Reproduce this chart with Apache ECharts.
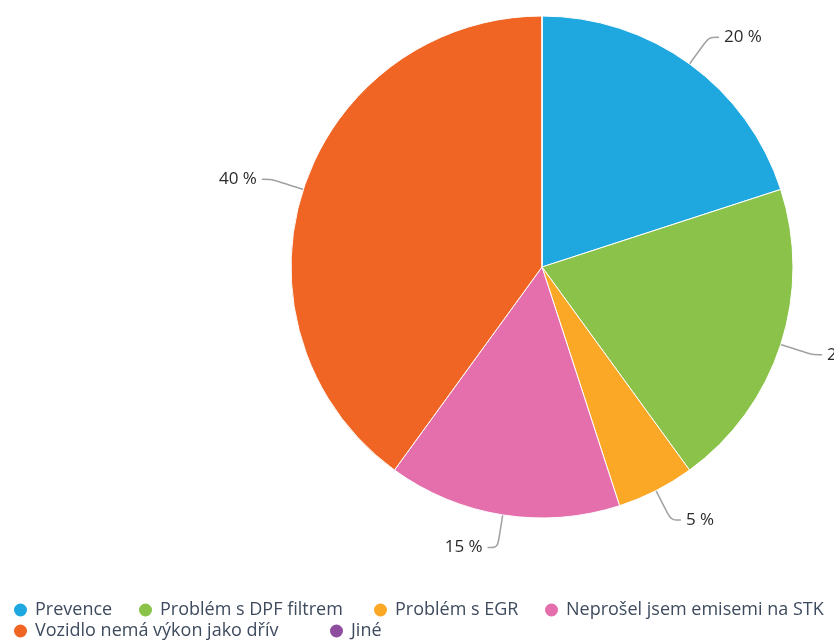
<!DOCTYPE html>
<html>
<head>
<meta charset="utf-8">
<script src="https://cdn.jsdelivr.net/npm/echarts@6/dist/echarts.min.js"></script>
<style>
  html, body { margin: 0; padding: 0; background: #fff; }
  #chart { width: 834px; height: 641px; }
</style>
</head>
<body>
<div id="chart"></div>
<script>
const categories = [
  'Prevence',
  'Problém s DPF filtrem',
  'Problém s EGR',
  'Neprošel jsem emisemi na STK',
  'Vozidlo nemá výkon jako dřív',
  'Jiné'
];
const values = [20, 20, 5, 15, 40, 0];
const colors = ['#1fa8e0', '#8bc34a', '#fba827', '#e56fac', '#f06524', '#8e4d9e'];

// legend item placement (left x, row top y)
const legendSpots = [[12, 601], [137, 601], [372, 601], [543, 601], [12, 622], [328, 622]];

const chart = echarts.init(document.getElementById('chart'));

const legends = categories.map((name, i) => ({
  data: [name],
  left: legendSpots[i][0],
  top: legendSpots[i][1],
  icon: 'circle',
  itemWidth: 15,
  itemHeight: 15,
  padding: 0,
  textStyle: {
    color: '#3e4b5e',
    fontSize: 18,
    lineHeight: 15,
    fontFamily: 'Open Sans',
    padding: [0, 0, 0, 2]
  }
}));

const option = {
  backgroundColor: '#fff',
  color: colors,
  legend: legends,
  series: [
    {
      type: 'pie',
      center: [542, 267],
      radius: 251,
      startAngle: 90,
      clockwise: true,
      avoidLabelOverlap: false,
      data: categories.map((name, i) => ({
        name: name,
        value: values[i],
        labelLine: { show: values[i] > 0 }
      })),
      itemStyle: {
        borderColor: '#fff',
        borderWidth: 1
      },
      label: {
        show: true,
        position: 'outside',
        formatter: p => p.value > 0 ? p.value + ' %' : '',
        color: '#2b2b2b',
        fontSize: 17,
        fontFamily: 'Open Sans'
      },
      labelLine: {
        show: true,
        length: 33,
        length2: 10,
        smooth: true,
        lineStyle: { color: '#a0a0a0', width: 1.5 }
      },
      emphasis: { scale: false }
    }
  ]
};

chart.setOption(option);
</script>
</body>
</html>
